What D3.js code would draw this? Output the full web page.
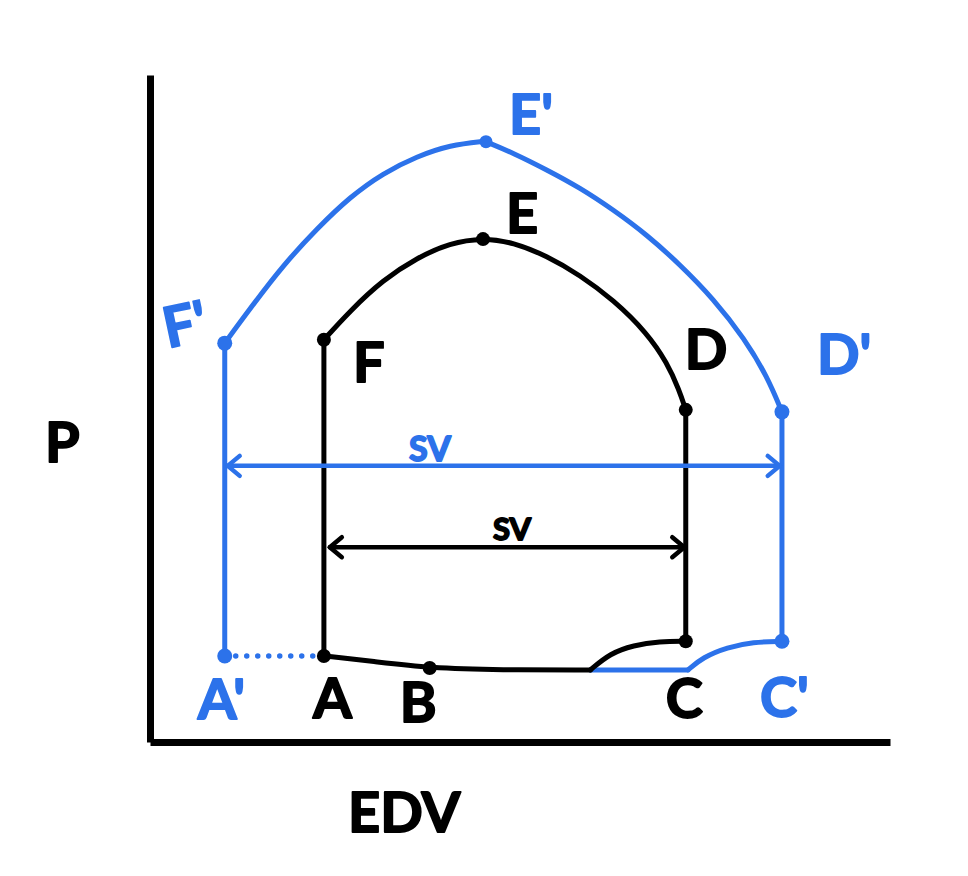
<!DOCTYPE html>
<html><head><meta charset="utf-8">
<script src="https://cdn.jsdelivr.net/npm/d3@7"></script>
<style>body{margin:0;background:#fff}</style>
</head><body><svg id="c" width="968" height="876"></svg>
<script>
// ---- data (arbitrary units: volume 0-100, pressure 0-100) ----
const pointNames = ["A","B","C","D","E","F"];
const pointValues = [[23.5,12.9],[37.8,11.1],[72.4,15.1],[72.4,49.8],[45.0,75.4],[23.5,60.3]];
const primeNames = ["A'","C'","D'","E'","F'"];
const primeValues = [[10.1,12.9],[85.4,15.1],[85.4,49.5],[45.4,90.0],[10.1,59.8]];

const blackFilling = [[23.5,12.9],[30.1,12.1],[37.8,11.1],[47.3,10.8],[59.5,10.8]];
const blackIsoContraction = [[59.5,10.8],[62.2,13.3],[65.3,14.5],[68.9,15.1],[72.4,15.1]];
const blackRise = [[72.4,15.1],[72.4,49.8]];
const blackEjection = [[23.5,60.3],[27.0,64.6],[31.5,69.3],[36.1,72.6],[40.5,74.8],[45.0,75.6],
  [49.1,74.9],[53.6,72.9],[58.1,70.0],[62.6,66.3],[67.2,61.3],[69.9,56.8],[71.5,52.8],[72.4,49.8]];
const blackRelax = [[23.5,60.3],[23.5,12.9]];

const blueFillEnd = [[59.5,10.8],[72.7,10.8]];
const blueIsoContraction = [[72.7,10.8],[74.7,12.7],[78.0,14.2],[81.5,15.0],[85.4,15.1]];
const blueRise = [[85.4,15.1],[85.4,49.5]];
const blueUpLeft = [[10.1,59.8],[13.6,65.1],[18.0,71.5],[22.6,77.0],[27.0,81.7],[31.5,85.3],[36.1,87.8],[40.5,89.5],[45.4,90.1]];
const blueUpRight = [[45.4,90.0],[49.1,88.3],[53.6,85.8],[58.1,83.1],[62.6,79.8],[67.2,76.0],[71.6,71.6],[76.1,66.5],[80.4,60.4],[83.4,54.8],[85.4,49.5]];
const blueRelax = [[10.1,59.8],[10.1,12.9]];
const dottedLink = [[10.1,12.9],[23.5,12.9]];

const svBlue = [[10.5,41.4],[85.1,41.4]];
const svBlack = [[24.3,29.2],[72.2,29.2]];
const axisLabels = ["EDV","P"];
const svLabel = "SV";

// ---- drawing ----
const BLUE = "#2c72ea", BLACK = "#000";
const svg = d3.select("#c");
const x = d3.scaleLinear().domain([0,100]).range([150,890]);
const y = d3.scaleLinear().domain([0,100]).range([742,75]);

// axes
svg.append("g").attr("transform","translate(0,742)")
  .call(d3.axisBottom(x).tickValues([]).tickSizeOuter(0))
  .select(".domain").attr("stroke",BLACK).attr("stroke-width",7);
svg.append("g").attr("transform","translate(150,0)")
  .call(d3.axisLeft(y).tickValues([]).tickSizeOuter(0))
  .select(".domain").attr("stroke",BLACK).attr("stroke-width",7);

const smooth = d3.line().x(d=>x(d[0])).y(d=>y(d[1])).curve(d3.curveBasis);
const straight = d3.line().x(d=>x(d[0])).y(d=>y(d[1]));

function path(data, gen, color, w){
  return svg.append("path").attr("d",gen(data)).attr("fill","none")
    .attr("stroke",color).attr("stroke-width",w)
    .attr("stroke-linecap","round").attr("stroke-linejoin","round");
}

const LW = 5;
// blue loop
path(blueFillEnd, straight, BLUE, LW);
path(blueIsoContraction, smooth, BLUE, LW);
path(blueRise, straight, BLUE, LW);
path(blueUpLeft, smooth, BLUE, LW);
path(blueUpRight, smooth, BLUE, LW);
path(blueRelax, straight, BLUE, LW);
path(dottedLink, straight, BLUE, 5.5).attr("stroke-dasharray","0 11");

// black loop
path(blackFilling, smooth, BLACK, LW);
path(blackIsoContraction, smooth, BLACK, LW);
path(blackRise, straight, BLACK, LW);
path(blackEjection, smooth, BLACK, LW);
path(blackRelax, straight, BLACK, LW);

// arrow markers
const defs = svg.append("defs");
function marker(id, color){
  defs.append("marker").attr("id",id).attr("viewBox","-18 -14 22 28")
    .attr("markerWidth",22).attr("markerHeight",28).attr("markerUnits","userSpaceOnUse")
    .attr("refX",0).attr("refY",0).attr("orient","auto-start-reverse")
    .append("path").attr("d","M-12,-10L0,0L-12,10").attr("fill","none")
    .attr("stroke",color).attr("stroke-width",4.5).attr("stroke-linecap","round").attr("stroke-linejoin","round");
}
marker("ab",BLUE); marker("ak",BLACK);
path(svBlue, straight, BLUE, 4.5).attr("marker-start","url(#ab)").attr("marker-end","url(#ab)");
path(svBlack, straight, BLACK, 4.5).attr("marker-start","url(#ak)").attr("marker-end","url(#ak)");

// dots
svg.selectAll(".pb").data(primeValues).join("circle")
  .attr("cx",d=>x(d[0])).attr("cy",d=>y(d[1])).attr("r",(d,i)=>i===3?6.5:7.5).attr("fill",BLUE);
svg.selectAll(".pk").data(pointValues).join("circle")
  .attr("cx",d=>x(d[0])).attr("cy",d=>y(d[1])).attr("r",7).attr("fill",BLACK);

// labels
function label(t, px, py, color, size, rot){
  const el = svg.append("text").attr("x",px).attr("y",py).text(t)
    .attr("fill",color).attr("stroke",color).attr("stroke-width",1.8)
    .attr("stroke-linejoin","round")
    .attr("font-family","Lato, 'DejaVu Sans', sans-serif").attr("font-weight","bold")
    .attr("font-size",size);
  if(rot) el.attr("transform",`rotate(${rot},${px},${py})`);
  return el;
}
const blackOffsets = [[-11,62],[-30,54],[-20,77],[-1,-41],[23,-6],[29,42]];
pointNames.forEach((n,i)=>{
  const p = pointValues[i];
  label(n, x(p[0])+blackOffsets[i][0], y(p[1])+blackOffsets[i][1], BLACK, 56);
});
const blueOffsets = [[-27,63],[-22,76],[35,-38],[23,-8],[-57,5]];
const blueRot = [0,0,0,0,-12];
primeNames.forEach((n,i)=>{
  const p = primeValues[i];
  label(n, x(p[0])+blueOffsets[i][0], y(p[1])+blueOffsets[i][1], BLUE, 56, blueRot[i]);
});
label(svLabel, 409, 461, BLUE, 34);
label(svLabel, 493, 540, BLACK, 31);
label(axisLabels[0], 348, 832, BLACK, 56);
label(axisLabels[1], 45, 462, BLACK, 56);
</script></body></html>
